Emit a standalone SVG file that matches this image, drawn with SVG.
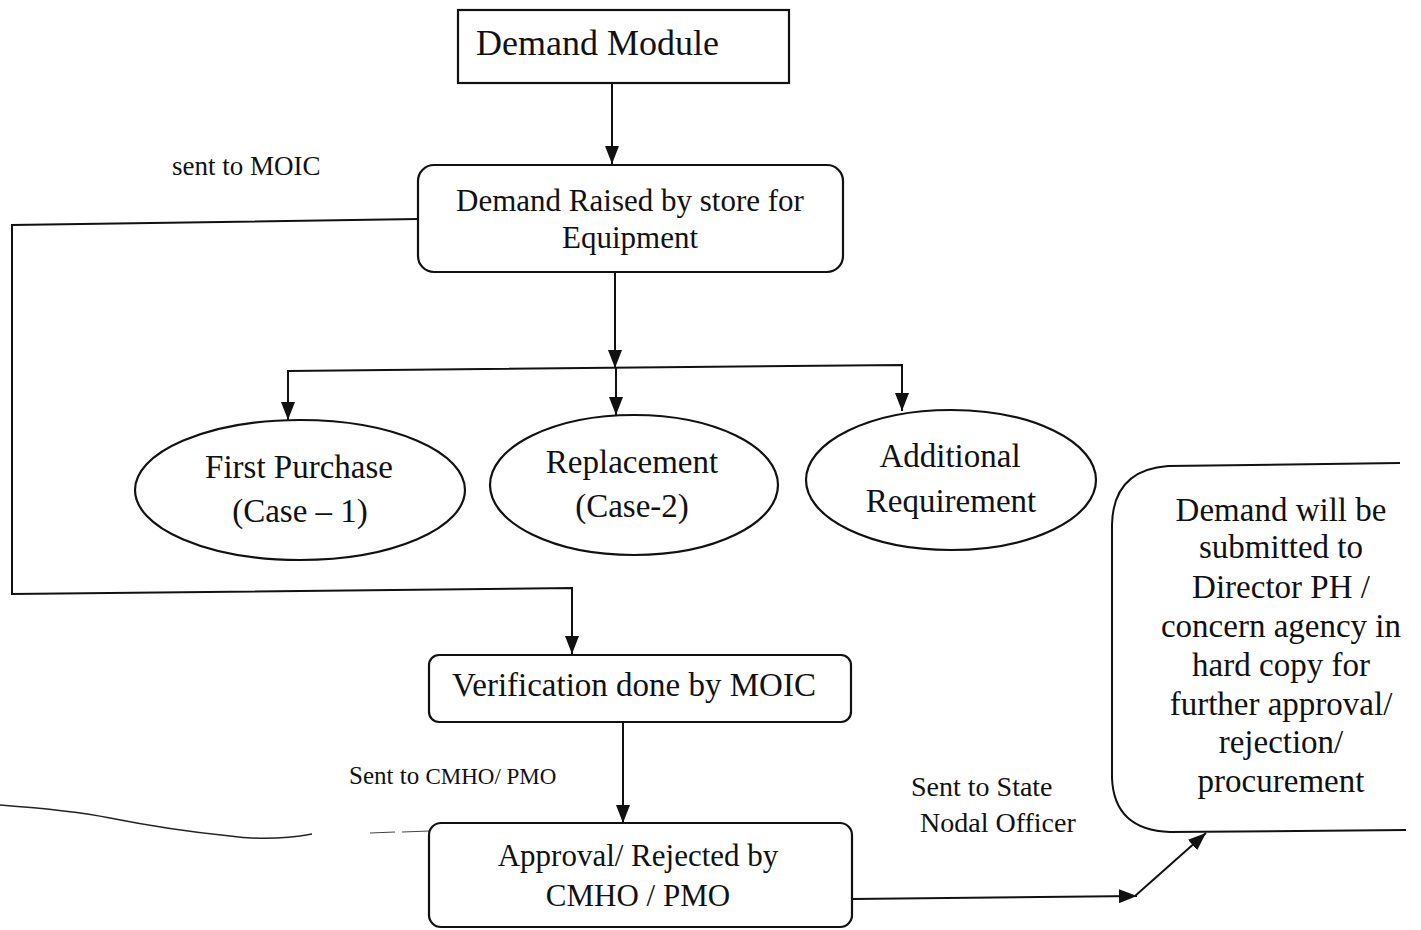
<svg xmlns="http://www.w3.org/2000/svg" width="1421" height="930" viewBox="0 0 1421 930">
<style>
text{font-family:"Liberation Serif","Times New Roman",serif;fill:#111}
.c{text-anchor:middle}
.box{fill:#fff;stroke:#111;stroke-width:2.2}
.ln{fill:none;stroke:#111;stroke-width:2}
</style>
<defs>
<marker id="ah" viewBox="0 0 18 14" refX="18" refY="7" markerWidth="18" markerHeight="14" markerUnits="userSpaceOnUse" orient="auto">
<path d="M0,0 L18,7 L0,14 Z" fill="#111"/>
</marker>
</defs>
<rect width="1421" height="930" fill="#fff"/>

<g id="connectors">
<line class="ln" x1="612" y1="83" x2="612" y2="164" marker-end="url(#ah)"/>
<polyline class="ln" points="418,219 12,225 12,594 572,588 572,654" marker-end="url(#ah)"/>
<line class="ln" x1="615" y1="272" x2="615" y2="368" marker-end="url(#ah)"/>
<polyline class="ln" points="288,371 902,365 902,411" marker-end="url(#ah)"/>
<line class="ln" x1="288" y1="370" x2="288" y2="420" marker-end="url(#ah)"/>
<line class="ln" x1="616" y1="368" x2="616" y2="415" marker-end="url(#ah)"/>
<line class="ln" x1="623" y1="722" x2="623" y2="823" marker-end="url(#ah)"/>
<line class="ln" x1="852" y1="899" x2="1137" y2="896" marker-end="url(#ah)"/>
<line class="ln" x1="1135" y1="896" x2="1206" y2="833" marker-end="url(#ah)"/>
</g>

<g id="labels">
<text x="172" y="175" font-size="27">sent to MOIC</text>
<text x="349" y="784" font-size="25">Sent to <tspan font-size="23">CMHO/ PMO</tspan></text>
<text x="911" y="796" font-size="28">Sent to State</text>
<text x="920" y="832" font-size="28">Nodal Officer</text>
</g>

<g id="scan-edge">
<path d="M0,805 C40,808 80,812 110,818 C150,826 190,832 230,836 C260,840 290,838 312,834" fill="none" stroke="#222" stroke-width="1.5"/>
<path d="M370,833 L395,832 M402,832 L430,831" fill="none" stroke="#444" stroke-width="1.2"/>
</g>

<g id="demand-module">
<rect class="box" x="458" y="10" width="331" height="73"/>
<text x="476" y="55" font-size="36">Demand Module</text>
</g>

<g id="demand-raised">
<rect class="box" x="418" y="165" width="425" height="107" rx="16"/>
<text class="c" x="630" y="211" font-size="31">Demand Raised by store for</text>
<text class="c" x="630" y="248" font-size="31">Equipment</text>
</g>

<g id="first-purchase">
<ellipse class="box" cx="300" cy="490" rx="165" ry="70"/>
<text class="c" x="299" y="478" font-size="33">First Purchase</text>
<text class="c" x="300" y="522" font-size="33">(Case – 1)</text>
</g>

<g id="replacement">
<ellipse class="box" cx="634" cy="485" rx="144" ry="70"/>
<text class="c" x="632" y="473" font-size="33">Replacement</text>
<text class="c" x="632" y="517" font-size="33">(Case-2)</text>
</g>

<g id="additional">
<ellipse class="box" cx="951" cy="480" rx="145" ry="70"/>
<text class="c" x="950" y="467" font-size="33">Additional</text>
<text class="c" x="951" y="512" font-size="33">Requirement</text>
</g>

<g id="verification">
<rect class="box" x="429" y="655" width="422" height="67" rx="10"/>
<text class="c" x="634" y="696" font-size="33">Verification done by MOIC</text>
</g>

<g id="approval">
<rect class="box" x="429" y="823" width="423" height="104" rx="12"/>
<text class="c" x="638" y="866" font-size="31">Approval/ Rejected by</text>
<text class="c" x="638" y="906" font-size="31">CMHO / PMO</text>
</g>

<g id="director">
<path class="ln" d="M1400,463 L1168,466 Q1113,470 1112,525 L1112,778 Q1114,830 1170,832 L1406,830"/>
<text class="c" x="1281" y="521" font-size="33">Demand will be</text>
<text class="c" x="1281" y="558" font-size="33">submitted to</text>
<text class="c" x="1281" y="598" font-size="33">Director PH /</text>
<text class="c" x="1281" y="637" font-size="33">concern agency in</text>
<text class="c" x="1281" y="676" font-size="33">hard copy for</text>
<text class="c" x="1281" y="715" font-size="33">further approval/</text>
<text class="c" x="1281" y="753" font-size="33">rejection/</text>
<text class="c" x="1281" y="792" font-size="33">procurement</text>
</g>
</svg>
